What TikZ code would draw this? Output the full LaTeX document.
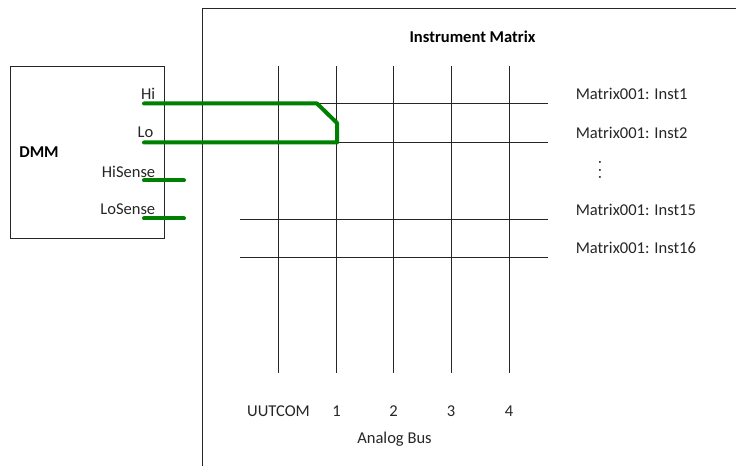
\documentclass[tikz,border=0pt]{standalone}
\usepackage{fontspec}
\setmainfont{Carlito}
\begin{document}
\begin{tikzpicture}[x=0.75pt,y=-0.75pt,
  thin line/.style={draw=black!85!white,line width=0.75pt},
  wire/.style={draw=green!50!black,line width=3pt,line cap=round,line join=round},
  lbl/.style={inner sep=0pt,font=\fontsize{12.4}{15}\selectfont,text=black!85},
  bld/.style={lbl,font=\fontsize{12.4}{15}\selectfont\bfseries,text=black}]
\useasboundingbox (0,0) rectangle (736,466);
% boxes
\coordinate (mt) at (736,8.5); \coordinate (mtl) at (202,8.5); \coordinate (mb) at (202,466);
\draw[thin line] (mt) -- (mtl) -- (mb);
\node (dmm) [draw=black!85!white,line width=0.75pt,inner sep=0pt,anchor=north west,minimum width=115.5pt,minimum height=129pt] at (10,66) {};
% grid coordinates
\foreach \n/\x in {u/278.5,a/336.5,b/393.5,c/451.5,d/509}{
  \coordinate (\n t) at (\x,66); \coordinate (\n b) at (\x,373);
  \draw[thin line] (\n t) -- (\n b);
}
\coordinate (h1l) at (317,103.5); \coordinate (h1r) at (548,103.5);
\coordinate (h2l) at (337,142.5); \coordinate (h2r) at (548,142.5);
\coordinate (h3l) at (240,219.5); \coordinate (h3r) at (548,219.5);
\coordinate (h4l) at (240,257.5); \coordinate (h4r) at (548,257.5);
\draw[thin line] (h1l) -- (h1r);
\draw[thin line] (h2l) -- (h2r);
\draw[thin line] (h3l) -- (h3r);
\draw[thin line] (h4l) -- (h4r);
% labels
\node[bld] (title) at (472.5,36.5) {Instrument Matrix};
\node[bld] (dmml) at (39,152) {DMM};
\node[lbl,anchor=east] (hi) at (155.5,93.5) {Hi};
\node[lbl,anchor=east] (lo) at (153.5,132.5) {Lo};
\node[lbl,anchor=east] (his) at (155.5,171.5) {HiSense};
\node[lbl,anchor=east] (los) at (155.5,209.5) {LoSense};
\node[lbl,anchor=west] (i1) at (575.5,93.5) {Matrix001: Inst1};
\node[lbl,anchor=west] (i2) at (575.5,132.5) {Matrix001: Inst2};
\node[lbl,rotate=90] (dots) at (600,170) {.\kern2.8pt.\kern2.8pt.};
\node[lbl,anchor=west] (i15) at (575.5,209.5) {Matrix001: Inst15};
\node[lbl,anchor=west] (i16) at (575.5,248) {Matrix001: Inst16};
\node[lbl] (uc) at (278.5,411.5) {UUTCOM};
\node[lbl] (n1) at (336.5,411.5) {1};
\node[lbl] (n2) at (393.5,411.5) {2};
\node[lbl] (n3) at (451,411.5) {3};
\node[lbl] (n4) at (509,411.5) {4};
\node[lbl] (ab) at (394.5,439.5) {Analog Bus};
% green wires
\coordinate (w1) at (144,103.5); \coordinate (w1a) at (317,103.5); \coordinate (w1b) at (337,123); \coordinate (w1c) at (337,142.5); \coordinate (w2) at (144,142.5);
\coordinate (w3a) at (144,180.5); \coordinate (w3b) at (184,180.5);
\coordinate (w4a) at (144,218.5); \coordinate (w4b) at (184,218.5);
\draw[wire] (w1) -- (w1a) -- (w1b) -- (w1c) -- (w2);
\draw[wire] (w3a) -- (w3b);
\draw[wire] (w4a) -- (w4b);
\end{tikzpicture}
\end{document}
